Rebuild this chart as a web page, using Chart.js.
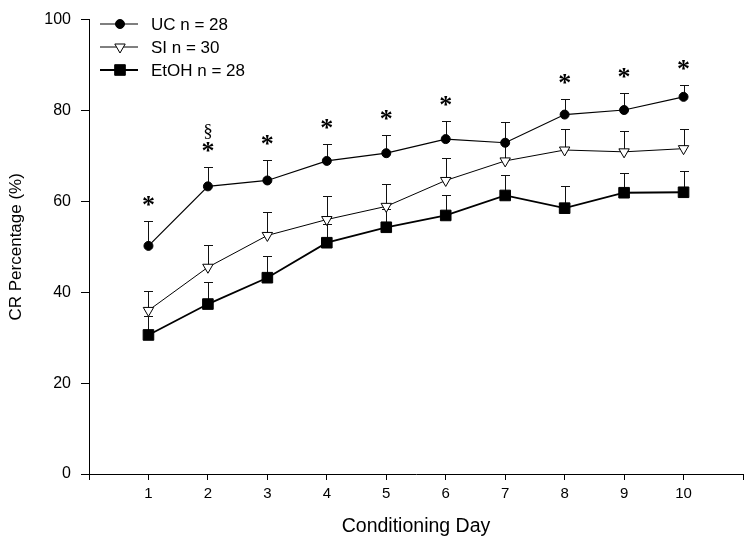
<!DOCTYPE html>
<html>
<head>
<meta charset="utf-8">
<script src="https://cdn.jsdelivr.net/npm/chart.js@4.4.1/dist/chart.umd.min.js"></script>
<style>
html,body{margin:0;padding:0;background:#fff;}
#wrap{width:752px;height:543px;}
</style>
</head>
<body>
<div id="wrap"><canvas id="c" width="752" height="543"></canvas></div>
<script>
// ---- data ----
const days = [1, 2, 3, 4, 5, 6, 7, 8, 9, 10];
const seriesNames = ['UC n = 28', 'SI n = 30', 'EtOH n = 28'];
const ucMean = [50.2, 63.3, 64.6, 68.9, 70.6, 73.7, 72.9, 79.1, 80.1, 83.0];
const ucErr  = [5.4, 4.3, 4.5, 3.8, 4.0, 4.0, 4.5, 3.4, 3.7, 2.7];
const siMean = [36.0, 45.5, 52.5, 56.0, 58.9, 64.6, 68.9, 71.3, 70.9, 71.6];
const siErr  = [4.3, 4.9, 5.2, 5.1, 4.9, 4.9, 4.0, 4.7, 4.5, 4.4];
const etMean = [30.6, 37.4, 43.2, 50.9, 54.3, 56.9, 61.3, 58.5, 61.9, 62.0];
const etErr  = [4.1, 4.8, 4.8, 4.1, 4.1, 4.4, 4.4, 4.9, 4.3, 4.6];
const starDays = [1, 2, 3, 4, 5, 6, 8, 9, 10];
const sectionDays = [2];
const yTicks = [0, 20, 40, 60, 80, 100];
const xLabelDays = [1, 2, 3, 4, 5, 6, 7, 8, 9, 10];

const FONT = '"Liberation Sans", Arial, Helvetica, sans-serif';

function pts(mean){ return days.map((d,i)=>({x:d, y:mean[i]})); }

const errorBars = {
  id: 'errorBars',
  beforeDatasetsDraw(chart){
    const {ctx, scales:{x, y}} = chart;
    const sets = [[ucMean, ucErr],[siMean, siErr],[etMean, etErr]];
    ctx.save();
    ctx.strokeStyle = '#111';
    ctx.lineWidth = 1;
    sets.forEach(([m, e]) => {
      days.forEach((d, i) => {
        const px = Math.round(x.getPixelForValue(d)) + 0.5;
        const p0 = y.getPixelForValue(m[i]);
        const p1 = Math.round(y.getPixelForValue(m[i] + e[i])) + 0.5;
        ctx.beginPath();
        ctx.moveTo(px, p0); ctx.lineTo(px, p1);
        ctx.moveTo(px - 4.5, p1); ctx.lineTo(px + 4.5, p1);
        ctx.stroke();
      });
    });
    ctx.restore();
  }
};

const marks = {
  id: 'marks',
  afterDatasetsDraw(chart){
    const {ctx, scales:{x, y}} = chart;
    ctx.save();
    ctx.fillStyle = '#000';
    ctx.textAlign = 'center';
    ctx.textBaseline = 'alphabetic';
    starDays.forEach(d => {
      const i = days.indexOf(d);
      const px = x.getPixelForValue(d);
      const top = y.getPixelForValue(ucMean[i] + ucErr[i]);
      ctx.font = 'bold 26px "Liberation Serif", "Times New Roman", serif';
      ctx.fillText('*', px, top - 8);
    });
    sectionDays.forEach(d => {
      const i = days.indexOf(d);
      const px = x.getPixelForValue(d);
      const top = y.getPixelForValue(ucMean[i] + ucErr[i]);
      ctx.font = '19px "Liberation Serif", "Times New Roman", serif';
      ctx.fillText('\u00A7', px, top - 30);
    });
    ctx.restore();
  }
};

const legendPlugin = {
  id: 'customLegend',
  afterDraw(chart){
    const {ctx} = chart;
    const ds = chart.data.datasets;
    ds.forEach((d, k) => {
      const yy = 24 + k * 23;
      ctx.save();
      ctx.strokeStyle = '#000';
      ctx.lineWidth = d.borderWidth;
      ctx.beginPath();
      ctx.moveTo(100, yy); ctx.lineTo(138, yy);
      ctx.stroke();
      ctx.fillStyle = d.pointBackgroundColor;
      ctx.strokeStyle = '#000';
      ctx.lineWidth = 1;
      Chart.helpers.drawPoint(ctx, {
        pointStyle: d.pointStyle, rotation: d.pointRotation || 0,
        radius: d.pointRadius, borderWidth: 1
      }, 120, yy);
      ctx.fillStyle = '#000';
      ctx.font = '17px ' + FONT;
      ctx.textAlign = 'left';
      ctx.textBaseline = 'middle';
      ctx.fillText(d.label, 151, yy + 1);
      ctx.restore();
    });
  }
};

new Chart(document.getElementById('c'), {
  type: 'line',
  data: {
    datasets: [
      { label: seriesNames[0], data: pts(ucMean), borderColor: '#000', borderWidth: 1.2,
        pointStyle: 'circle', pointRadius: 4.5, pointBackgroundColor: '#000', pointBorderColor: '#000', pointBorderWidth: 1 },
      { label: seriesNames[1], data: pts(siMean), borderColor: '#000', borderWidth: 1,
        pointStyle: 'triangle', pointRotation: 180, pointRadius: 6, pointBackgroundColor: '#fff', pointBorderColor: '#000', pointBorderWidth: 1 },
      { label: seriesNames[2], data: pts(etMean), borderColor: '#000', borderWidth: 1.8,
        pointStyle: 'rect', pointRadius: 7.5, pointBackgroundColor: '#000', pointBorderColor: '#000', pointBorderWidth: 1 }
    ]
  },
  options: {
    responsive: false,
    animation: false,
    devicePixelRatio: 1,
    clip: false,
    layout: { padding: { top: 16, right: 9, left: 0, bottom: 0 } },
    plugins: { legend: { display: false }, tooltip: { enabled: false } },
    scales: {
      x: {
        type: 'linear', min: 0, max: 11,
        afterFit: s => { s.height = 69; },
        afterBuildTicks: s => { s.ticks = Array.from({length: 12}, (_, v) => ({value: v})); },
        ticks: {
          color: '#000', padding: 5, maxRotation: 0, autoSkip: false,
          font: { family: FONT, size: 15 },
          callback: v => xLabelDays.includes(v) ? String(v) : ''
        },
        grid: { drawOnChartArea: false, drawTicks: true, tickLength: 6, color: '#000' },
        border: { display: true, color: '#000', width: 1 },
        title: { display: true, text: 'Conditioning Day', color: '#000',
                 font: { family: FONT, size: 19.5 }, padding: { top: 0, bottom: 5 } }
      },
      y: {
        type: 'linear', min: 0, max: 100,
        afterFit: s => { s.width = 89; },
        afterBuildTicks: s => { s.ticks = yTicks.map(v => ({value: v})); },
        ticks: { color: '#000', padding: 10, font: { family: FONT, size: 16 } },
        grid: { drawOnChartArea: false, drawTicks: true, tickLength: 8, color: '#000' },
        border: { display: true, color: '#000', width: 1 },
        title: { display: true, text: 'CR Percentage (%)', color: '#000',
                 font: { family: FONT, size: 17 }, padding: { top: 6, bottom: 0 } }
      }
    }
  },
  plugins: [errorBars, marks, legendPlugin]
});
</script>
</body>
</html>
